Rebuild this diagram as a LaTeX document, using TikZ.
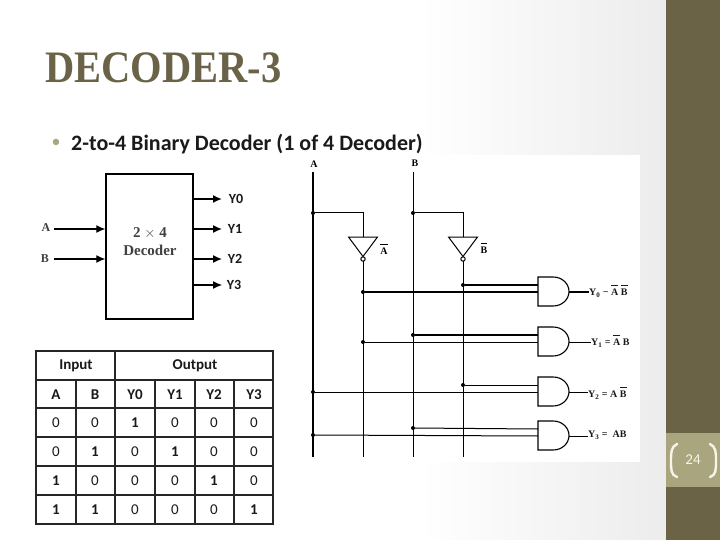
\documentclass[tikz,border=0pt]{standalone}
\usepackage{graphicx}
\usepackage{fontspec}
\setmainfont{Liberation Serif}
\newfontfamily\calf{Carlito}
\usetikzlibrary{arrows.meta}
\definecolor{bandc}{HTML}{6B6346}
\definecolor{blockc}{HTML}{A9A67F}
\definecolor{titlec}{HTML}{6B6347}
\definecolor{paleg}{HTML}{ECECEC}
\definecolor{numc}{HTML}{F7F5E6}
\definecolor{inkc}{HTML}{1A1A1A}
\newcommand{\ov}[1]{$\overline{\hbox{\rule{0pt}{0.88em}#1}}$}
\newcommand{\fs}[1]{\fontsize{#1}{#1}\selectfont}
\tikzset{
  x=1pt,y=-1pt,
  jdot/.style={circle,fill=black,inner sep=0pt,minimum size=4pt},
  bus/.style={line width=1.7pt,black},
  wire/.style={line width=1pt,black},
  sig/.style={line width=1.1pt,black,-{Latex[length=9pt,width=8pt]}},
  gatebody/.style={line width=1.1pt,black,fill=white},
  cell/.style={font=\calf\fs{15},text=inkc,inner sep=0pt},
  cellb/.style={font=\calf\bfseries\fs{15},text=inkc,inner sep=0pt},
  ylab/.style={font=\calf\bfseries\fs{14},text=inkc,inner sep=0pt},
  clab/.style={font=\bfseries\fs{10},text=inkc,inner sep=0pt,anchor=west},
  tgrid/.style={line width=1.5pt,black!85},
  pics/andg/.style={code={
    \draw[gatebody] (0,0) -- (15,0) .. controls (24,0) and (31,6.5) .. (31,14.5)
      .. controls (31,22.5) and (24,29) .. (15,29) -- (0,29) -- cycle;
    \coordinate (-a) at (0,8);
    \coordinate (-b) at (0,15);
    \coordinate (-o) at (31,15);
  }},
  pics/notg/.style={code={
    \draw[line width=1pt,black,fill=white] (-14.5,0) -- (14.5,0) -- (0,19.5) -- cycle;
    \draw[line width=1pt,black,fill=white] (0,22) circle (2.2);
    \coordinate (-i) at (0,0);
    \coordinate (-o) at (0,24);
  }}
}
\begin{document}
\begin{tikzpicture}
\useasboundingbox (0,0) rectangle (720,540);
% background
\fill[white] (0,0) rectangle (720,540);
\shade[left color=white,right color=paleg] (420,0) rectangle (666,540);
\fill[bandc] (666,0) rectangle (720,540);
\fill[blockc] (666,433) rectangle (720,487);
\fill[white] (300,155) rectangle (640,462);
% title
\node[anchor=west,inner sep=0pt,font=\bfseries\fs{45},text=titlec] (title) at (45,68) {\scalebox{.9}[1]{DECODER-3}};
\node[inner sep=0pt,font=\calf\fs{18},text=blockc] (bullet) at (56,143) {•};
\node[anchor=west,inner sep=0pt,font=\calf\bfseries\fs{22},text=inkc] (sub) at (71,144) {2-to-4 Binary Decoder (1 of 4 Decoder)};
% block decoder
\node[draw=black,line width=1.5pt,fill=white,minimum width=87pt,minimum height=145pt,inner sep=0pt] (dec) at (149.5,246.5) {};
\node[inner sep=0pt,font=\bfseries\fs{15},text=black!75] (dec2) at (150,233) {2 $\times$ 4};
\node[inner sep=0pt,font=\bfseries\fs{15},text=black!75] (dec3) at (150,250) {Decoder};
\node[inner sep=0pt,font=\bfseries\fs{12},text=black!75] (ia) at (46,228) {A};
\node[inner sep=0pt,font=\bfseries\fs{12},text=black!75] (ib) at (45,259) {B};
\coordinate (ias) at (54,229);
\coordinate (ibs) at (54,259);
\draw[sig] (ias) -- (ias-|dec.west);
\draw[sig] (ibs) -- (ibs-|dec.west);
\node[ylab] (y0) at (236,199) {Y0};
\node[ylab] (y1) at (235,229) {Y1};
\node[ylab] (y2) at (235,259) {Y2};
\node[ylab] (y3) at (234,285) {Y3};
\coordinate (y0t) at (222,199);
\coordinate (y1t) at (222,229);
\coordinate (y2t) at (222,259);
\coordinate (y3t) at (222,285);
\draw[sig,line width=1.6pt] (y0t-|dec.east) -- (y0t);
\draw[sig,line width=1.4pt] (y1t-|dec.east) -- (y1t);
\draw[sig,line width=1.4pt] (y2t-|dec.east) -- (y2t);
\draw[sig] (y3t-|dec.east) -- (y3t);
% truth table
\draw[tgrid] (36,351) rectangle (273,524);
\foreach \yy in {380,408,437,466,495} \draw[tgrid] (36,\yy) -- (273,\yy);
\draw[tgrid] (115,351) -- (115,524);
\draw[tgrid] (76,380) -- (76,524);
\foreach \xx in {155,195,234} \draw[tgrid] (\xx,380) -- (\xx,524);
\node[cellb] (tin) at (76,366) {Input};
\node[cellb] (tout) at (195,366) {Output};
\foreach \nm/\xx in {A/56,B/95,Y0/135,Y1/175,Y2/214,Y3/254}
  \node[cellb] (h\nm) at (\xx,395) {\nm};
\foreach \rr/\yy/\a/\b/\c/\d/\e/\f in {
  1/423/0/0/1/0/0/0, 2/452/0/1/0/1/0/0, 3/481/1/0/0/0/1/0, 4/510/1/1/0/0/0/1}{
  \foreach \cc/\xx/\v in {1/56/\a,2/95/\b,3/135/\c,4/175/\d,5/214/\e,6/254/\f}{
    \ifnum\v=1 \node[cellb] (c\rr\cc) at (\xx,\yy) {\v};
    \else \node[cell] (c\rr\cc) at (\xx,\yy) {\v};
    \fi
  }
}
% circuit rails
\node[inner sep=0pt,font=\bfseries\fs{10},text=black] (la) at (314,164) {A};
\node[inner sep=0pt,font=\bfseries\fs{10},text=black] (lb) at (415,163) {B};
\coordinate (at) at (313,172); \coordinate (ab) at (313,457);
\coordinate (bt) at (413,172); \coordinate (bb) at (413,457);
\coordinate (nab) at (363,457); \coordinate (nbb) at (463,457);
\draw[bus] (at) -- (ab);
\draw[wire] (bt) -- (bb);
\node[jdot] (pa) at (313,213) {};
\node[jdot] (pb) at (413,213) {};
\coordinate (ca) at (363,213);
\coordinate (cb) at (463,213);
\pic (ninva) at (363,237) {notg};
\pic (ninvb) at (463,237) {notg};
\draw[wire] (pa) -- (ca) -- (ninva-i);
\draw[wire] (pb) -- (cb) -- (ninvb-i);
\draw[wire] (ninva-o) -- (nab);
\draw[wire] (ninvb-o) -- (nbb);
\node[inner sep=0pt,font=\bfseries\fs{10}] (lna) at (384,249) {\ov{A}};
\node[inner sep=0pt,font=\bfseries\fs{10}] (lnb) at (484,248) {\ov{B}};
% gates
\pic (g1) at (538,277) {andg};
\pic (g2) at (538,327) {andg};
\pic (g3) at (538,377) {andg};
\pic (g4) at (538,421) {andg};
\node[jdot] (p1a) at (463,285) {};
\node[jdot] (p1b) at (363,292) {};
\node[jdot] (p2a) at (413,335) {};
\node[jdot] (p2b) at (363,342) {};
\node[jdot] (p3a) at (463,385) {};
\node[jdot] (p3b) at (313,392) {};
\node[jdot] (p4a) at (413,428) {};
\node[jdot] (p4b) at (313,435) {};
\draw[bus] (p1a) -- (g1-a);
\draw[bus] (p1b) -- (g1-b);
\draw[bus] (p2a) -- (g2-a);
\draw[wire] (p2b) -- (g2-b);
\draw[wire] (p3a) -- (g3-a);
\draw[wire] (p3b) -- (g3-b);
\draw[wire] (p4a) -- (g4-a);
\draw[wire] (p4b) -- (g4-b);
\node[clab] (o1) at (589,291) {Y\textsubscript{0} − \ov{A} \ov{B}};
\node[clab] (o2) at (591,341) {Y\textsubscript{1} = \ov{A} B};
\node[clab] (o3) at (588,393) {Y\textsubscript{2} = A \ov{B}};
\node[clab] (o4) at (588,435) {Y\textsubscript{3} = \ AB};
\coordinate (o1e) at (o1.west|-g1-o);
\coordinate (o2e) at (o2.west|-g2-o);
\coordinate (o3e) at (o3.west|-g3-o);
\coordinate (o4e) at (o4.west|-g4-o);
\draw[bus] (g1-o) -- (o1e);
\draw[wire] (g2-o) -- (o2e);
\draw[wire] (g3-o) -- (o3e);
\draw[wire] (g4-o) -- (o4e);
% page number
\node[inner sep=0pt,font=\calf\fs{15},text=numc] (num) at (693,460) {24};
\draw[numc,line width=2.4pt,line cap=round] (677,444) .. controls (671,447) and (671,452) .. (671,461) .. controls (671,470) and (671,475) .. (677,477);
\draw[numc,line width=2.4pt,line cap=round] (710,444) .. controls (716,447) and (716,452) .. (716,461) .. controls (716,470) and (716,475) .. (710,477);
\end{tikzpicture}
\end{document}
